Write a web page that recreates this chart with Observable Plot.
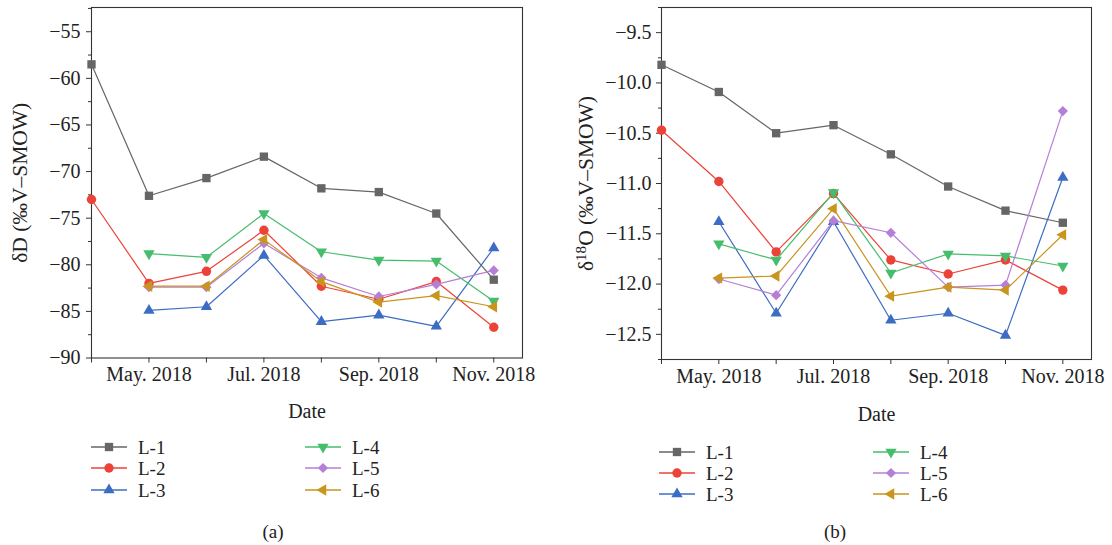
<!DOCTYPE html>
<html><head><meta charset="utf-8">
<script src="https://cdn.jsdelivr.net/npm/d3@7"></script>
<script src="https://cdn.jsdelivr.net/npm/@observablehq/plot@0.6"></script>
<style>
body{margin:0;background:#fff;}
#wrap{position:relative;width:1112px;height:545px;overflow:hidden;font-family:"Liberation Serif","Times New Roman",serif;color:#222;background:#fff;}
.panel{position:absolute;top:0;}
.leg{position:absolute;font-size:19px;line-height:1;display:flex;align-items:center;white-space:nowrap;}
.leg svg{display:block;margin-right:11px;}
.cap{position:absolute;font-size:19px;transform:translate(-50%,-50%);}
</style></head><body><div id="wrap"></div>
<script>
// ---- data ----
const months = ["Apr. 2018","May. 2018","Jun. 2018","Jul. 2018","Aug. 2018","Sep. 2018","Oct. 2018","Nov. 2018"];
const xTickText = ["", "May. 2018", "", "Jul. 2018", "", "Sep. 2018", "", "Nov. 2018"];
const seriesNames = ["L-1","L-2","L-3","L-4","L-5","L-6"];
const seriesColors = ["#666666","#ec4339","#3d6cc3","#46bd6c","#b67fd7","#c9951d"];

// δD (‰V-SMOW)
const dD_L1 = [-58.5, -72.6, -70.7, -68.4, -71.8, -72.2, -74.5, -81.6];
const dD_L2 = [-73.0, -82.0, -80.7, -76.3, -82.3, -83.7, -81.8, -86.7];
const dD_L3 = [null, -84.9, -84.5, -79.0, -86.1, -85.4, -86.6, -78.2];
const dD_L4 = [null, -78.8, -79.2, -74.5, -78.6, -79.5, -79.6, -83.9];
const dD_L5 = [null, -82.4, -82.4, -77.7, -81.4, -83.4, -82.1, -80.6];
const dD_L6 = [null, -82.3, -82.3, -77.3, -81.8, -84.0, -83.3, -84.5];

// δ18O (‰V-SMOW)
const d18O_L1 = [-9.82, -10.09, -10.50, -10.42, -10.71, -11.03, -11.27, -11.39];
const d18O_L2 = [-10.47, -10.98, -11.68, -11.10, -11.76, -11.90, -11.76, -12.06];
const d18O_L3 = [null, -11.38, -12.29, -11.38, -12.36, -12.29, -12.51, -10.94];
const d18O_L4 = [null, -11.60, -11.76, -11.09, -11.89, -11.70, -11.72, -11.82];
const d18O_L5 = [null, -11.95, -12.11, -11.37, -11.49, -12.03, -12.01, -10.28];
const d18O_L6 = [null, -11.94, -11.92, -11.25, -12.12, -12.03, -12.06, -11.51];

const dDTicks = [-90, -85, -80, -75, -70, -65, -60, -55];
const d18OTicks = [-12.5, -12.0, -11.5, -11.0, -10.5, -10.0, -9.5];

// ---- styling ----
const symbols = ["square","circle","triangle","triangle","diamond2","triangle"];
const rotations = [0, 0, 0, 180, 0, -90];
const radii = [4.7, 4.7, 4.2, 4.2, 4.6, 4.2];

function rows(arr) {
  return arr.map((v, i) => ({i, v, month: months[i]})).filter(d => d.v != null);
}

function makePanel(opts) {
  const marks = [Plot.frame({stroke: "#333", strokeWidth: 1.1})];
  marks.push(Plot.axisY(opts.minor, {tickSize: 3, tickFormat: () => "", label: null, stroke: "#333"}));
  marks.push(Plot.axisY(opts.major, {
    tickSize: 5, tickPadding: opts.tickPadY, tickFormat: opts.fmt, stroke: "#333", fontSize: 20,
    label: opts.label, labelAnchor: "center", labelArrow: "none", labelOffset: opts.labelOffsetY
  }));
  marks.push(Plot.axisX(d3.range(months.length), {
    tickSize: 5, tickPadding: 4, tickFormat: i => xTickText[i], stroke: "#333", fontSize: 20,
    label: "Date", labelAnchor: "center", labelArrow: "none", labelOffset: opts.labelOffsetX
  }));
  opts.series.forEach((arr, k) => {
    const data = rows(arr);
    marks.push(Plot.line(data, {x: "i", y: "v", stroke: seriesColors[k], strokeWidth: 1.2}));
    marks.push(Plot.dot(data, {x: "i", y: "v", symbol: symbols[k], fill: seriesColors[k], stroke: "none",
      r: radii[k], rotate: rotations[k]}));
  });
  const svg = Plot.plot({
    width: 556, height: 425,
    marginLeft: opts.marginLeft, marginRight: opts.marginRight, marginTop: 7, marginBottom: opts.marginBottom,
    style: {fontFamily: '"Liberation Serif","Times New Roman",serif', fontSize: "20px", color: "#222", background: "transparent", overflow: "visible"},
    x: {type: "linear", domain: [0, 7.5]},
    y: {type: "linear", domain: opts.yDomain},
    marks
  });
  return svg;
}

const wrap = document.getElementById("wrap");

const pa = makePanel({
  series: [dD_L1, dD_L2, dD_L3, dD_L4, dD_L5, dD_L6],
  major: dDTicks, minor: d3.range(-87.5, -52, 5),
  fmt: d3.format("d"), label: "δD (‰V–SMOW)",
  yDomain: [-90, -52.4], marginLeft: 91, marginRight: 34, marginBottom: 67.5,
  tickPadY: 6, labelOffsetY: 80, labelOffsetX: 60
});
pa.classList.add("panel"); pa.style.left = "0px";
wrap.appendChild(pa);

const pb = makePanel({
  series: [d18O_L1, d18O_L2, d18O_L3, d18O_L4, d18O_L5, d18O_L6],
  major: d18OTicks, minor: d3.range(-12.75, -9.2, 0.5),
  fmt: d3.format(".1f"), label: "δ18O (‰V–SMOW)",
  yDomain: [-12.75, -9.25], marginLeft: 105, marginRight: 21, marginBottom: 66,
  tickPadY: 5, labelOffsetY: 84, labelOffsetX: 61
});
pb.classList.add("panel"); pb.style.left = "556px";
wrap.appendChild(pb);

const ns = "http://www.w3.org/2000/svg";
// larger y-axis labels
pa.querySelectorAll("text").forEach(t => {
  if (t.textContent === "δD (‰V–SMOW)") t.style.fontSize = "21.5px";
});
// superscript for δ18O label
pb.querySelectorAll("text").forEach(t => {
  if (t.textContent === "δ18O (‰V–SMOW)") {
    t.style.fontSize = "21.5px";
    const target = t.querySelector("tspan") || t;
    target.textContent = "";
    const a = document.createElementNS(ns, "tspan"); a.textContent = "δ";
    const b = document.createElementNS(ns, "tspan"); b.textContent = "18";
    b.setAttribute("dy", "-0.45em"); b.setAttribute("font-size", "70%");
    const c = document.createElementNS(ns, "tspan"); c.textContent = "O (‰V–SMOW)";
    c.setAttribute("dy", "0.32em");
    target.appendChild(a); target.appendChild(b); target.appendChild(c);
  }
});

// ---- legends ----
function legend(colX, rowY) {
  seriesNames.forEach((name, k) => {
    const col = Math.floor(k / 3), row = k % 3;
    const div = document.createElement("div");
    div.className = "leg";
    div.style.left = colX[col] + "px";
    div.style.top = (rowY[row] - 9) + "px";
    div.style.height = "18px";
    const svg = d3.create("svg").attr("width", 36).attr("height", 18);
    svg.append("line").attr("x1", 0).attr("x2", 36).attr("y1", 9).attr("y2", 9)
      .attr("stroke", seriesColors[k]).attr("stroke-width", 1.4);
    const typeMap = {square: d3.symbolSquare, circle: d3.symbolCircle, triangle: d3.symbolTriangle, diamond2: d3.symbolDiamond2};
    svg.append("path")
      .attr("d", d3.symbol(typeMap[symbols[k]], Math.PI * radii[k] * radii[k])())
      .attr("transform", `translate(18,9) rotate(${rotations[k]})`)
      .attr("fill", seriesColors[k]);
    div.appendChild(svg.node());
    const span = document.createElement("span");
    span.textContent = name;
    div.appendChild(span);
    wrap.appendChild(div);
  });
}
legend([91, 305], [447, 468, 490]);
legend([659, 873], [452, 473, 494]);

// ---- captions ----
[["(a)", 273, 532], ["(b)", 835, 532]].forEach(([t, x, y]) => {
  const d = document.createElement("div");
  d.className = "cap"; d.textContent = t;
  d.style.left = x + "px"; d.style.top = y + "px";
  wrap.appendChild(d);
});
</script></body></html>
